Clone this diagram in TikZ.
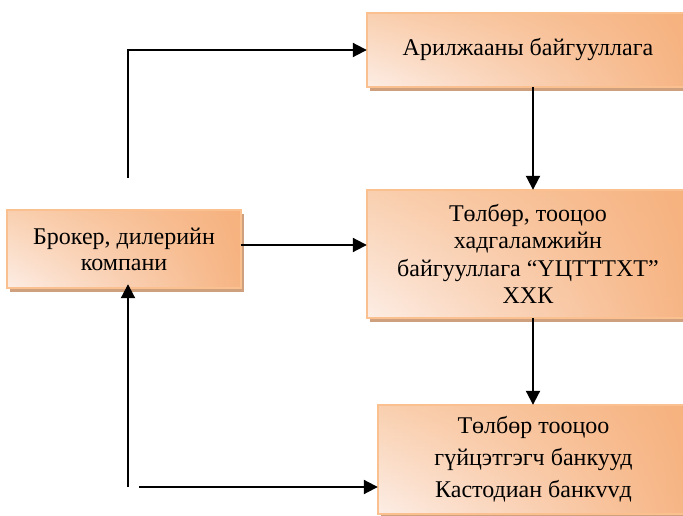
\documentclass[tikz,border=0pt]{standalone}
\usepackage{fontspec}
\setmainfont{Liberation Serif}
\usetikzlibrary{arrows.meta,shadows,fadings}
\definecolor{boxline}{HTML}{FAC090}
\definecolor{boxdark}{HTML}{F6AE78}
\definecolor{boxlight}{HTML}{FDEEE6}
\definecolor{boxmid}{HTML}{FAD0B0}
\definecolor{shadowc}{HTML}{CFA07E}
\tikzset{
  box/.style={rectangle, inner sep=0pt,
    top color=boxmid, bottom color=boxlight,
    drop shadow={shadow xshift=3pt, shadow yshift=-4pt, fill=shadowc, opacity=1},
    postaction={fill=boxdark, fill opacity=0.9, path fading=west},
    postaction={draw=boxline, line width=1.4pt},
    align=center, font=\fontsize{24}{27.5}\selectfont},
  arr/.style={line width=2pt, -{Triangle[length=14pt,width=14pt]}}
}
\begin{document}
\begin{tikzpicture}[x=1pt,y=-1pt]
\useasboundingbox (0,0) rectangle (683,516);
\node[box, minimum width=322pt, minimum height=74pt] (top) at (528,50) {Арилжааны байгууллага};
\node[box, minimum width=322pt, minimum height=128pt] (mid) at (528,254) {Төлбөр, тооцоо\\хадгаламжийн\\байгууллага “ҮЦТТТХТ”\\ХХК};
\node[box, minimum width=311pt, minimum height=109pt, font=\fontsize{24}{32}\selectfont] (bot) at (533.5,459.5) {Төлбөр тооцоо\\гүйцэтгэгч банкууд\\Кастодиан банкvvд};
\node[box, minimum width=234pt, minimum height=78pt, font=\fontsize{24}{26}\selectfont] (lb) at (124,249) {Брокер, дилерийн\\компани};
\coordinate (c1) at (128,178);
\coordinate (c2) at (128,487);
\coordinate (c3) at (139,487);
\coordinate (ra) at (241,245);
\draw[arr] (c1) |- (top.west);
\draw[arr] (ra) -- (ra -| mid.west);
\draw[arr] (top.south -| 533,0) -- (mid.north -| 533,0);
\draw[arr] (mid.south -| 533,0) -- (bot.north -| 533,0);
\draw[arr] (c2) -- ([yshift=4pt]c2 |- lb.south);
\draw[arr] (c3) -- (c3 -| bot.west);
\end{tikzpicture}
\end{document}
